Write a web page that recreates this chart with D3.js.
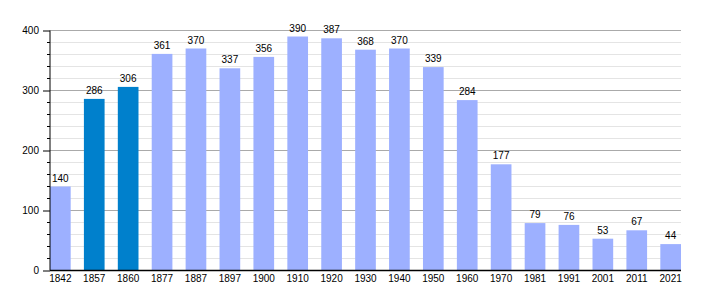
<!DOCTYPE html>
<html>
<head>
<meta charset="utf-8">
<script src="https://cdn.jsdelivr.net/npm/d3@7"></script>
<style>
  body { margin: 0; background: #fff; }
  text { font-family: "Liberation Sans", Arial, sans-serif; font-size: 10px; fill: #000; }
</style>
</head>
<body>
<svg id="chart" width="710" height="300"></svg>
<script>
const years = ["1842","1857","1860","1877","1887","1897","1900","1910","1920","1930","1940","1950","1960","1970","1981","1991","2001","2011","2021"];
const population = [140,286,306,361,370,337,356,390,387,368,370,339,284,177,79,76,53,67,44];
const highlighted = ["1857","1860"];
const yTicks = [0,100,200,300,400];

let svg = d3.select("#chart");

let x = d3.scaleBand().domain(years).range([50, 681]).paddingInner(0.39).paddingOuter(0);
let y = d3.scaleLinear().domain([0, 400]).range([270.5, 30.5]);

// minor gridlines every 20
let minor = d3.range(0, 401, 20).filter(v => v % 100 !== 0);
svg.append("g").selectAll("line").data(minor).join("line")
  .attr("x1", 50).attr("x2", 681)
  .attr("y1", d => y(d)).attr("y2", d => y(d))
  .attr("stroke", "#e4e4e4").attr("stroke-width", 1);

// major gridlines
svg.append("g").selectAll("line").data(yTicks.filter(d => d > 0)).join("line")
  .attr("x1", 50).attr("x2", 681)
  .attr("y1", d => y(d)).attr("y2", d => y(d))
  .attr("stroke", "#aaaaaa").attr("stroke-width", 1);

// bars
svg.append("g").selectAll("rect").data(years).join("rect")
  .attr("x", d => x(d))
  .attr("y", (d, i) => y(population[i]))
  .attr("width", x.bandwidth())
  .attr("height", (d, i) => y(0) - y(population[i]))
  .attr("fill", d => highlighted.includes(d) ? "#0080cc" : "#9db0ff");

// value labels
svg.append("g").selectAll("text").data(years).join("text")
  .attr("x", d => x(d) + x.bandwidth() / 2)
  .attr("y", (d, i) => y(population[i]) - 5)
  .attr("text-anchor", "middle")
  .text((d, i) => population[i]);

// y axis with minor ticks
let yAxis = svg.append("g").attr("transform", "translate(50,0)")
  .call(d3.axisLeft(y).tickValues(yTicks).tickSize(7).tickPadding(4));
yAxis.selectAll(".tick text").style("font-size", "10px").style("font-family", "Liberation Sans, Arial, sans-serif");
yAxis.select(".domain").remove();
yAxis.append("g").selectAll("line").data(minor).join("line")
  .attr("x1", -3).attr("x2", 0)
  .attr("y1", d => y(d)).attr("y2", d => y(d))
  .attr("stroke", "#000");
yAxis.append("line").attr("x1", 0).attr("x2", 0).attr("y1", y(400)).attr("y2", y(0)).attr("stroke", "#000");

// x axis
let xAxis = svg.append("g").attr("transform", "translate(0," + y(0) + ")")
  .call(d3.axisBottom(x).tickSize(0).tickPadding(4));
xAxis.selectAll(".tick text").style("font-size", "10px").style("font-family", "Liberation Sans, Arial, sans-serif");
xAxis.select(".domain").attr("d", "M50,0H681").attr("stroke", "#000").attr("stroke-width", 1.5);
</script>
</body>
</html>
